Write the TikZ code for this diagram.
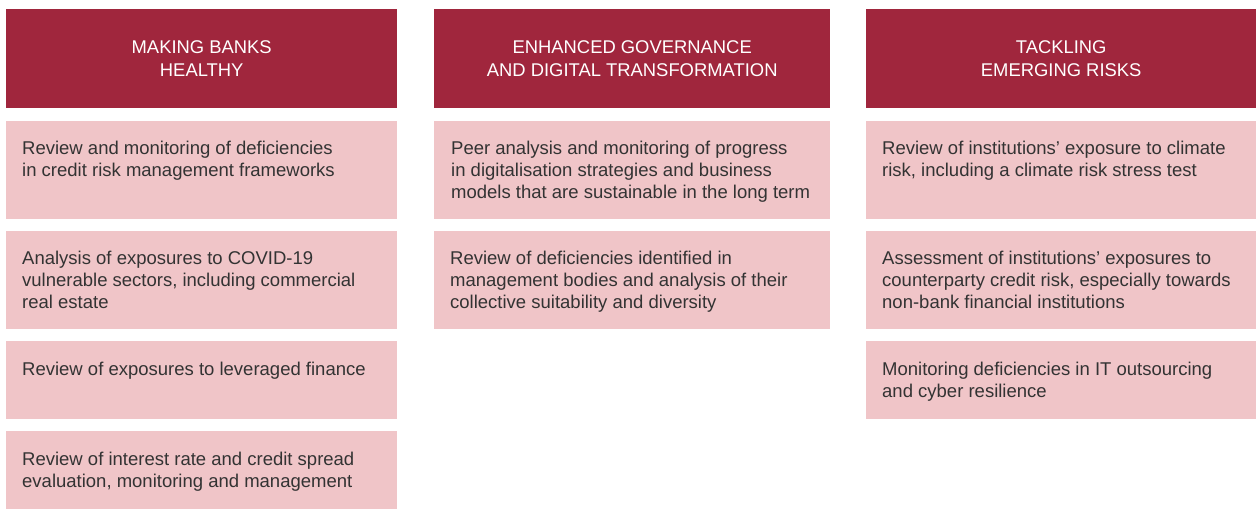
\documentclass[tikz,border=0pt]{standalone}
\usepackage{fontspec}
\setmainfont{Liberation Sans}
\usetikzlibrary{positioning}

\definecolor{headred}{HTML}{A0263D}
\definecolor{cellpink}{HTML}{F0C5C8}
\definecolor{celltxt}{HTML}{333333}

\tikzset{
  head/.style={fill=headred, text=white, anchor=north west, inner sep=0pt,
    align=center, font=\fontsize{18.4}{22.5}\selectfont},
  cell/.style={fill=cellpink, anchor=north west, inner sep=0pt},
  % base west sits on the last line, so lower by 22pt per extra line
  celltext/.style={anchor=base west, inner sep=0pt, align=left, text=celltxt,
    font=\fontsize{18.5}{22}\selectfont},
}

\begin{document}
\begin{tikzpicture}[x=1pt, y=-1pt]
\useasboundingbox (0,0) rectangle (1256,509);

% column headers
\node (h1) [head, minimum width=391pt, minimum height=99pt] at (6,9)
  {MAKING BANKS\\HEALTHY};
\node (h2) [head, minimum width=396pt, minimum height=99pt] at (434,9)
  {ENHANCED GOVERNANCE\\AND DIGITAL TRANSFORMATION};
\node (h3) [head, minimum width=390pt, minimum height=99pt] at (866,9)
  {TACKLING\\EMERGING RISKS};

% first column
\node (a1) [cell, minimum width=391pt, minimum height=98pt] at (6,121) {};
\node (a2) [cell, minimum width=391pt, minimum height=98pt] at (6,231) {};
\node (a3) [cell, minimum width=391pt, minimum height=78pt] at (6,341) {};
\node (a4) [cell, minimum width=391pt, minimum height=78pt] at (6,431) {};
\node (a1t) [celltext] at ([xshift=16pt, yshift=-55.5pt]a1.north west)
  {Review and monitoring of deficiencies\\in credit risk management frameworks};
\node (a2t) [celltext] at ([xshift=16pt, yshift=-77.5pt]a2.north west)
  {Analysis of exposures to COVID-19\\vulnerable sectors, including commercial\\real estate};
\node (a3t) [celltext] at ([xshift=16pt, yshift=-34.5pt]a3.north west)
  {Review of exposures to leveraged finance};
\node (a4t) [celltext] at ([xshift=16pt, yshift=-56.5pt]a4.north west)
  {Review of interest rate and credit spread\\evaluation, monitoring and management};

% second column
\node (b1) [cell, minimum width=396pt, minimum height=98pt] at (434,121) {};
\node (b2) [cell, minimum width=396pt, minimum height=98pt] at (434,231) {};
\node (b1t) [celltext] at ([xshift=17pt, yshift=-77.5pt]b1.north west)
  {Peer analysis and monitoring of progress\\in digitalisation strategies and business\\models that are sustainable in the long term};
\node (b2t) [celltext] at ([xshift=16pt, yshift=-77.5pt]b2.north west)
  {Review of deficiencies identified in\\management bodies and analysis of their\\collective suitability and diversity};

% third column
\node (c1) [cell, minimum width=390pt, minimum height=98pt] at (866,121) {};
\node (c2) [cell, minimum width=390pt, minimum height=98pt] at (866,231) {};
\node (c3) [cell, minimum width=390pt, minimum height=78pt] at (866,341) {};
\node (c1t) [celltext] at ([xshift=16pt, yshift=-55.5pt]c1.north west)
  {Review of institutions' exposure to climate\\risk, including a climate risk stress test};
\node (c2t) [celltext] at ([xshift=16pt, yshift=-77.5pt]c2.north west)
  {Assessment of institutions' exposures to\\counterparty credit risk, especially towards\\non-bank financial institutions};
\node (c3t) [celltext] at ([xshift=16pt, yshift=-56.5pt]c3.north west)
  {Monitoring deficiencies in IT outsourcing\\and cyber resilience};
\end{tikzpicture}
\end{document}
